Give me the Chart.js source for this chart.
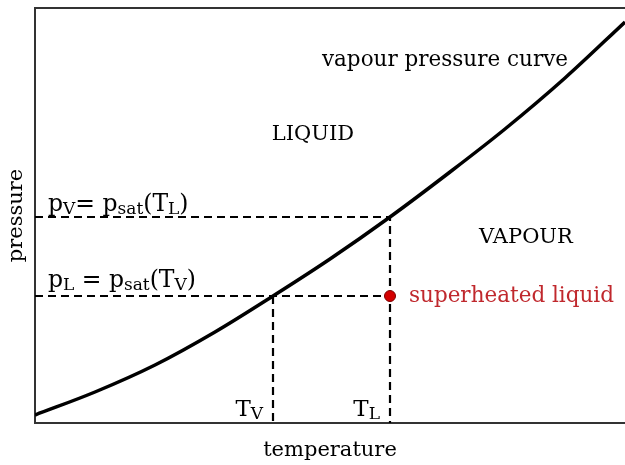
<!DOCTYPE html>
<html>
<head>
<meta charset="utf-8">
<script src="https://cdn.jsdelivr.net/npm/chart.js@4/dist/chart.umd.min.js"></script>
<style>
  html, body { margin: 0; padding: 0; background: #fff; }
  #wrap { width: 625px; height: 465px; }
</style>
</head>
<body>
<div id="wrap"><canvas id="grafico"></canvas></div>
<script>
// Curva de presion de vapor (unidades arbitrarias)
const curvaT = [0, 60, 120, 180, 238, 295, 355, 415, 470, 530, 590];
const curvaP = [8, 31, 58, 91, 127, 164, 206, 251, 294, 345, 401];
// Temperaturas y presiones de saturacion
const tV = 238;
const tL = 355;
const pL = 127;
const pV = 206;
// Textos
const textoCurva = 'vapour pressure curve';
const textoLiquido = 'LIQUID';
const textoVapor = 'VAPOUR';
const textoSobre = 'superheated liquid';

const fuente = '"DejaVu Serif", serif';

// Dibuja texto con subindices
function textoRico(ctx, x, y, partes, size, color, alinear) {
  ctx.save();
  ctx.fillStyle = color;
  ctx.textBaseline = 'alphabetic';
  ctx.textAlign = 'left';
  const tam = sub => sub ? Math.round(size * 0.72) : size;
  let ancho = 0;
  partes.forEach(([t, sub]) => {
    ctx.font = `${tam(sub)}px ${fuente}`;
    ancho += ctx.measureText(t).width;
  });
  let cx = alinear === 'right' ? x - ancho : x;
  partes.forEach(([t, sub]) => {
    ctx.font = `${tam(sub)}px ${fuente}`;
    ctx.fillText(t, cx, sub ? y + size * 0.12 : y);
    cx += ctx.measureText(t).width;
  });
  ctx.restore();
}

const etiquetas = {
  id: 'etiquetas',
  afterDatasetsDraw(chart) {
    const {ctx, scales: {x, y}} = chart;
    const X = v => x.getPixelForValue(v);
    const Y = v => y.getPixelForValue(v);
    ctx.save();
    ctx.fillStyle = '#000';
    ctx.font = `21.5px ${fuente}`;
    ctx.textAlign = 'center';
    ctx.textBaseline = 'middle';
    ctx.fillText(textoCurva, X(410), Y(363));
    ctx.font = `21px ${fuente}`;
    ctx.fillText(textoLiquido, X(278), Y(288));
    ctx.fillText(textoVapor, X(491), Y(185));
    ctx.textAlign = 'left';
    ctx.fillStyle = '#c0282d';
    ctx.font = `21.5px ${fuente}`;
    ctx.fillText(textoSobre, X(tL) + 19, Y(pL));
    ctx.restore();
    textoRico(ctx, X(13), Y(pV) - 6, [['p', 0], ['V', 1], ['= p', 0], ['sat', 1], ['(T', 0], ['L', 1], [')', 0]], 23.5, '#000');
    textoRico(ctx, X(13), Y(pL) - 9, [['p', 0], ['L', 1], [' = p', 0], ['sat', 1], ['(T', 0], ['V', 1], [')', 0]], 23.5, '#000');
    textoRico(ctx, X(tV) - 10, Y(7), [['T', 0], ['V', 1]], 23, '#000', 'right');
    textoRico(ctx, X(tL) - 10, Y(7), [['T', 0], ['L', 1]], 23, '#000', 'right');
  }
};

const guion = [8, 5];
const ctx = document.getElementById('grafico');
const myChart = new Chart(ctx, {
  type: 'line',
  data: {
    datasets: [
      {
        data: [{x: tL, y: pL}],
        showLine: false,
        pointRadius: 5.5,
        pointBackgroundColor: '#d40000',
        pointBorderColor: '#7a0000',
        pointBorderWidth: 1,
        order: 0
      },
      {
        data: curvaT.map((t, i) => ({x: t, y: curvaP[i]})),
        borderColor: '#000',
        borderWidth: 3.5,
        pointRadius: 0,
        cubicInterpolationMode: 'monotone',
        order: 1
      },
      {
        data: [{x: 0, y: pV}, {x: tL, y: pV}, {x: tL, y: 0}],
        borderColor: '#000', borderWidth: 2.2, borderDash: guion, pointRadius: 0, order: 2
      },
      {
        data: [{x: 0, y: pL}, {x: tL, y: pL}],
        borderColor: '#000', borderWidth: 2.2, borderDash: guion, pointRadius: 0, order: 2
      },
      {
        data: [{x: tV, y: pL}, {x: tV, y: 0}],
        borderColor: '#000', borderWidth: 2.2, borderDash: guion, pointRadius: 0, order: 2
      }
    ]
  },
  options: {
    responsive: true,
    maintainAspectRatio: false,
    animation: false,
    layout: {padding: 0, autoPadding: false},
    plugins: {legend: {display: false}, tooltip: {enabled: false}},
    scales: {
      x: {
        type: 'linear', min: 0, max: 590,
        grid: {display: false},
        ticks: {display: false},
        border: {display: true, color: '#333', width: 2},
        title: {display: true, text: 'temperature', color: '#000', font: {family: fuente, size: 21}, padding: {top: 0, bottom: 2}},
        afterFit(s) { s.height = 42; }
      },
      xTop: {
        type: 'linear', position: 'top', min: 0, max: 590,
        grid: {display: false},
        ticks: {display: false},
        border: {display: true, color: '#333', width: 2},
        afterFit(s) { s.height = 8; }
      },
      y: {
        type: 'linear', min: 0, max: 415,
        grid: {display: false},
        ticks: {display: false},
        border: {display: true, color: '#333', width: 2},
        title: {display: true, text: 'pressure', color: '#000', font: {family: fuente, size: 21}, padding: {top: 4, bottom: 0}},
        afterFit(s) { s.width = 35; }
      }
    }
  },
  plugins: [etiquetas]
});
</script>
</body>
</html>
